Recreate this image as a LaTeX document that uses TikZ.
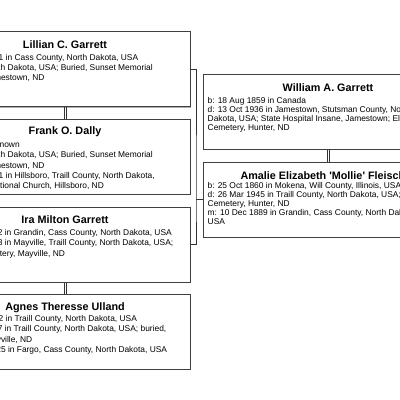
\documentclass[tikz,border=0pt]{standalone}
\usepackage{fontspec}
\setmainfont{Liberation Sans}
\usetikzlibrary{positioning, shadows}

\begin{document}
\begin{tikzpicture}[
      x=1pt, y=-1pt,
      person/.style={draw=black!75, line width=1pt, fill=white,
                     minimum width=250pt, minimum height=75pt, inner sep=0pt,
                     drop shadow={shadow xshift=1.2pt, shadow yshift=-1.2pt, fill=black!40, opacity=0.8}},
      pname/.style={font=\fontsize{10.8}{12}\selectfont\bfseries, inner sep=0pt},
      pinfo/.style={font=\fontsize{8.4}{10.2}\selectfont, align=left, inner sep=0pt, anchor=north west},
      pinfor/.style={pinfo, font=\fontsize{8.4}{8.9}\selectfont},
      link/.style={draw=black!80, line width=0.9pt}]

    \useasboundingbox (0,0) rectangle (400,400);
    \clip (0,0) rectangle (400,400);

    % ============================================
    % left column: children and their spouses
    % ============================================
    \node[person] (p1) at (65, 69) {};
    \node[pname] (n1) at ([yshift=-13.5pt]p1.north) {Lillian C. Garrett};
    \node[pinfo] (i1) at ([xshift=5pt, yshift=-23pt]p1.north west)
      {b: 28 May 1901 in Cass County, North Dakota, USA\\
       d: 1968 in North Dakota, USA; Buried, Sunset Memorial\\
       Cemetery, Jamestown, ND};

    \node[person] (p2) at (65, 156.5) {};
    \node[pname] (n2) at ([yshift=-13.5pt]p2.north) {Frank O. Dally};
    \node[pinfo] (i2) at ([xshift=5pt, yshift=-23pt]p2.north west)
      {b: 1898 in Unknown\\
       d: 1960 in North Dakota, USA; Buried, Sunset Memorial\\
       Cemetery, Jamestown, ND\\
       m: 12 Jun 1921 in Hillsboro, Traill County, North Dakota,\\
       First Congregational Church, Hillsboro, ND};

    \node[person] (p3) at (65, 244.5) {};
    \node[pname] (n3) at ([yshift=-13.5pt]p3.north) {Ira Milton Garrett};
    \node[pinfo] (i3) at ([xshift=5pt, yshift=-23pt]p3.north west)
      {b: 14 Aug 1902 in Grandin, Cass County, North Dakota, USA\\
       d: 22 Nov 1973 in Mayville, Traill County, North Dakota, USA;\\
       Mayville Cemetery, Mayville, ND};

    \node[person] (p4) at (65, 331.5) {};
    \node[pname] (n4) at ([yshift=-14pt]p4.north) {Agnes Theresse Ulland};
    \node[pinfo] (i4) at ([xshift=5pt, yshift=-22pt]p4.north west)
      {b: 10 May 1902 in Traill County, North Dakota, USA\\
       d: 15 Sep 1987 in Traill County, North Dakota, USA; buried,\\
       Cemetery, Mayville, ND\\
       m: 16 May 1925 in Fargo, Cass County, North Dakota, USA};

    % ============================================
    % right column: parents
    % ============================================
    \node[person] (p5) at (328, 111.5) {};
    \node[pname] (n5) at ([yshift=-14.5pt]p5.north) {William A. Garrett};
    \node[pinfor] (i5) at ([xshift=5pt, yshift=-24pt]p5.north west)
      {b: 18 Aug 1859 in Canada\\
       d: 13 Oct 1936 in Jamestown, Stutsman County, North\\
       Dakota, USA; State Hospital Insane, Jamestown; Elmwood\\
       Cemetery, Hunter, ND};

    \node[person] (p6) at (328, 199.5) {};
    \node[pname] (n6) at ([yshift=-14pt]p6.north)
      {Amalie Elizabeth \textquotesingle Mollie\textquotesingle\ Fleischer};
    \node[pinfor] (i6) at ([xshift=5pt, yshift=-21pt]p6.north west)
      {b: 25 Oct 1860 in Mokena, Will County, Illinois, USA\\
       d: 26 Mar 1945 in Traill County, North Dakota, USA; Elmwood\\
       Cemetery, Hunter, ND\\
       m: 10 Dec 1889 in Grandin, Cass County, North Dakota,\\
       USA};

    % marriages (two thin rules)
    \foreach \s in {-1, 1} {
        \draw[link, line width=0.8pt] ([xshift=\s pt]p1.south) -- ([xshift=\s pt]p2.north);
        \draw[link, line width=0.8pt] ([xshift=\s pt]p3.south) -- ([xshift=\s pt]p4.north);
        \draw[link, line width=0.8pt] ([xshift=\s pt]p5.south) -- ([xshift=\s pt]p6.north);
    }

    % descent bracket
    \coordinate (fam) at (196, 199.5);
    \draw[link] (p1.east) -| (fam) |- (p3.east);
    \draw[link] (fam) -- (p6.west);

\end{tikzpicture}
\end{document}
